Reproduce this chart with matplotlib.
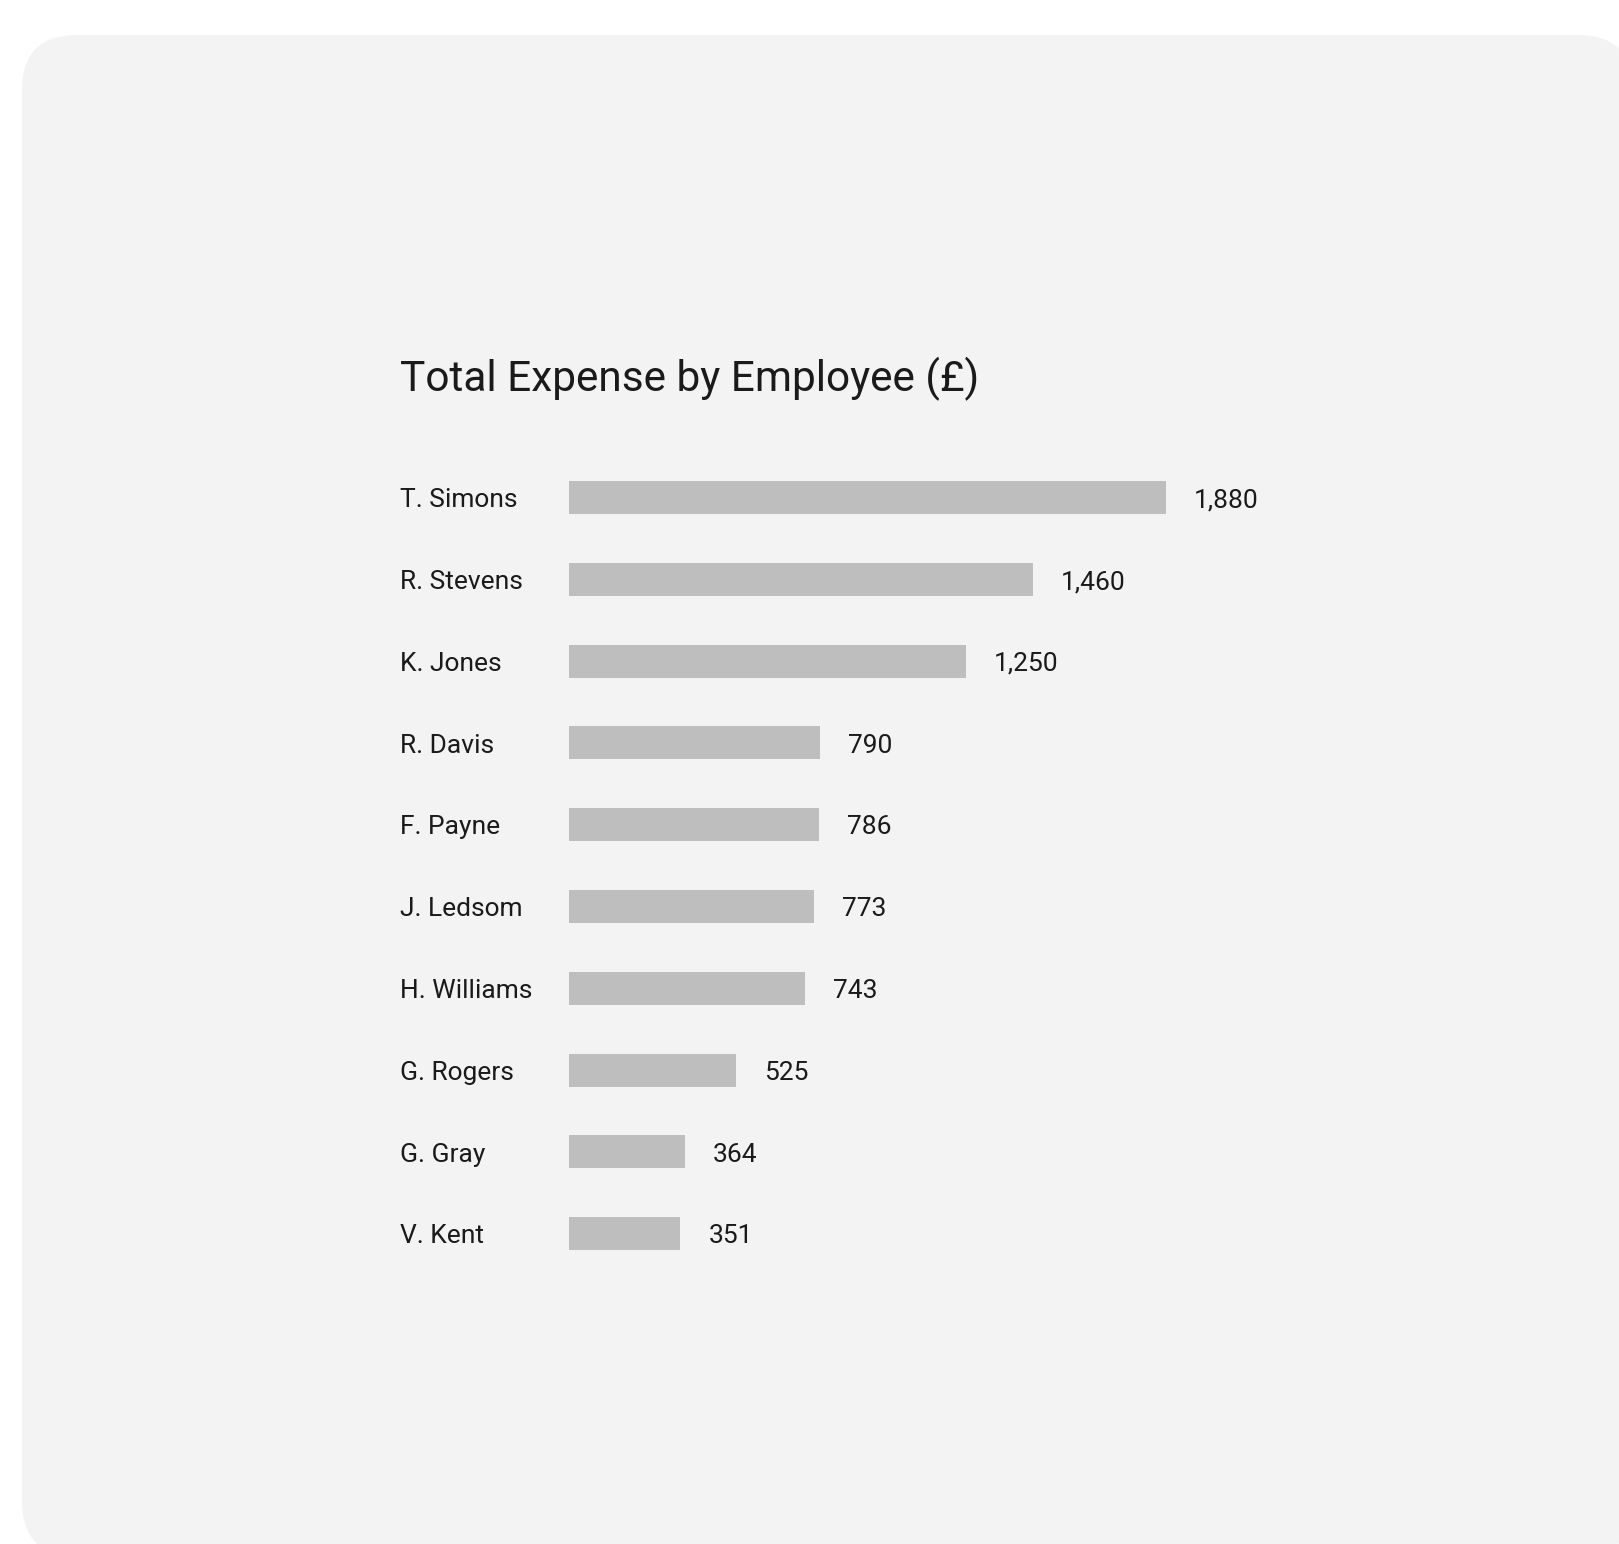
import matplotlib
matplotlib.use("Agg")
import matplotlib.pyplot as plt
from matplotlib.patches import FancyBboxPatch
from matplotlib.transforms import IdentityTransform, blended_transform_factory

# Expense totals per employee (GBP)
employees = ["T. Simons", "R. Stevens", "K. Jones", "R. Davis", "F. Payne",
             "J. Ledsom", "H. Williams", "G. Rogers", "G. Gray", "V. Kent"]
expenses = [1880, 1460, 1250, 790, 786, 773, 743, 525, 364, 351]
value_labels = ["1,880", "1,460", "1,250", "790", "786", "773", "743", "525", "364", "351"]
title = "Total Expense by Employee (£)"

W, H, DPI = 1619, 1544, 100
PANEL = "#f3f3f3"
BAR = "#bebebe"
INK = "#1a1a1a"

plt.rcParams["font.family"] = ["Roboto", "DejaVu Sans"]

fig = plt.figure(figsize=(W / DPI, H / DPI), dpi=DPI, facecolor="white")

# rounded card behind the chart (pixel coordinates, origin bottom-left)
card = FancyBboxPatch((22, -12), 1611, 1521,
                      boxstyle="round,pad=0,rounding_size=55",
                      transform=IdentityTransform(), facecolor=PANEL,
                      edgecolor="none", zorder=-5)
fig.patches.append(card)

# plot area: bars start at x=569px, 1880 spans ~597px; rows 81.8px apart
row_gap = 81.8
first_row = 497.5
ax_left, ax_width = 569, 900
ax_top = first_row - row_gap / 2
ax_height = row_gap * len(employees)
ax = fig.add_axes([ax_left / W, (H - ax_top - ax_height) / H, ax_width / W, ax_height / H])
ax.set_zorder(2)
ax.set_facecolor("none")
ax.set_xlim(0, 1880 * ax_width / 597)
ax.set_ylim(len(employees) - 0.5, -0.5)
ax.axis("off")

ypos = list(range(len(employees)))
ax.barh(ypos, expenses, height=33 / row_gap, color=BAR, edgecolor="none", zorder=2)

label_size = 19.0
name_tf = blended_transform_factory(fig.transFigure, ax.transData)
for y, name, v, txt in zip(ypos, employees, expenses, value_labels):
    ax.annotate(name, xy=(400 / W, y), xycoords=name_tf,
                xytext=(0, -7.0), textcoords="offset points",
                ha="left", va="baseline", fontsize=label_size, color=INK,
                annotation_clip=False)
    ax.annotate(txt, xy=(v, y), xycoords="data",
                xytext=(28 * 72 / DPI, -7.0), textcoords="offset points",
                ha="left", va="baseline", fontsize=label_size, color=INK,
                annotation_clip=False)

fig.text(400 / W, (H - 391) / H, title, ha="left", va="baseline",
         fontsize=30.5, color=INK)

fig.savefig("out.png", dpi=DPI, facecolor="white")
